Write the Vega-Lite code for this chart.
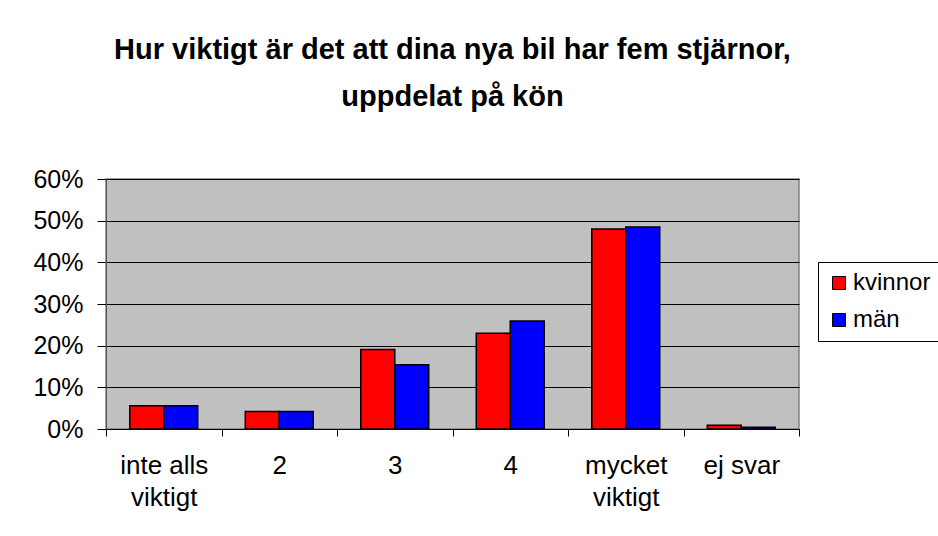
{
  "$schema": "https://vega.github.io/schema/vega-lite/v6.json",
  "autosize": "none",
  "width": 693,
  "height": 250,
  "padding": {"left": 106, "top": 179, "right": 139, "bottom": 107},
  "background": "white",
  "title": {
    "text": ["Hur viktigt är det att dina nya bil har fem stjärnor,", "uppdelat på kön"],
    "font": "Liberation Sans",
    "fontSize": 29,
    "fontWeight": "bold",
    "color": "black",
    "anchor": "middle",
    "lineHeight": 47,
    "offset": 55
  },
  "config": {
    "font": "Liberation Sans",
    "view": {"fill": "#c0c0c0", "stroke": "#808080", "strokeWidth": 1.5}
  },
  "data": {
    "values": [
      {"svar": "inte alls viktigt", "kon": "kvinnor", "andel": 0.056},
      {"svar": "inte alls viktigt", "kon": "män", "andel": 0.056},
      {"svar": "2", "kon": "kvinnor", "andel": 0.042},
      {"svar": "2", "kon": "män", "andel": 0.042},
      {"svar": "3", "kon": "kvinnor", "andel": 0.191},
      {"svar": "3", "kon": "män", "andel": 0.154},
      {"svar": "4", "kon": "kvinnor", "andel": 0.230},
      {"svar": "4", "kon": "män", "andel": 0.259},
      {"svar": "mycket viktigt", "kon": "kvinnor", "andel": 0.480},
      {"svar": "mycket viktigt", "kon": "män", "andel": 0.485},
      {"svar": "ej svar", "kon": "kvinnor", "andel": 0.009},
      {"svar": "ej svar", "kon": "män", "andel": 0.004}
    ]
  },
  "mark": {"type": "bar", "stroke": "black", "strokeWidth": 1.5},
  "encoding": {
    "x": {
      "field": "svar",
      "type": "nominal",
      "sort": ["inte alls viktigt", "2", "3", "4", "mycket viktigt", "ej svar"],
      "scale": {"paddingInner": 0, "paddingOuter": 0},
      "axis": {
        "title": null,
        "labelAngle": 0,
        "tickBand": "extent",
        "domainColor": "black",
        "tickColor": "black",
        "tickSize": 7,
        "labelFontSize": 26,
        "labelColor": "black",
        "labelPadding": 16,
        "labelBaseline": "top",
        "labelLineHeight": 32,
        "labelExpr": "datum.label == 'inte alls viktigt' ? ['inte alls', 'viktigt'] : datum.label == 'mycket viktigt' ? ['mycket', 'viktigt'] : datum.label"
      }
    },
    "xOffset": {
      "field": "kon",
      "type": "nominal",
      "sort": ["kvinnor", "män"],
      "scale": {"paddingInner": 0, "paddingOuter": 0.7}
    },
    "y": {
      "field": "andel",
      "type": "quantitative",
      "scale": {"domain": [0, 0.6], "nice": false},
      "axis": {
        "title": null,
        "values": [0, 0.1, 0.2, 0.3, 0.4, 0.5, 0.6],
        "format": ".0%",
        "grid": true,
        "gridColor": "black",
        "gridOpacity": 1,
        "gridWidth": 1,
        "domainColor": "#555555",
        "tickColor": "black",
        "tickSize": 9,
        "labelFontSize": 25,
        "labelColor": "black",
        "labelPadding": 14
      }
    },
    "color": {
      "field": "kon",
      "type": "nominal",
      "sort": ["kvinnor", "män"],
      "scale": {"domain": ["kvinnor", "män"], "range": ["#ff0000", "#0000ff"]},
      "legend": {
        "title": null,
        "orient": "none",
        "legendX": 712,
        "legendY": 83,
        "strokeColor": "black",
        "fillColor": "white",
        "padding": 9,
        "symbolType": "square",
        "symbolSize": 169,
        "symbolStrokeColor": "black",
        "symbolStrokeWidth": 1,
        "labelFontSize": 24,
        "labelColor": "black",
        "labelOffset": 2,
        "rowPadding": 13
      }
    }
  }
}
